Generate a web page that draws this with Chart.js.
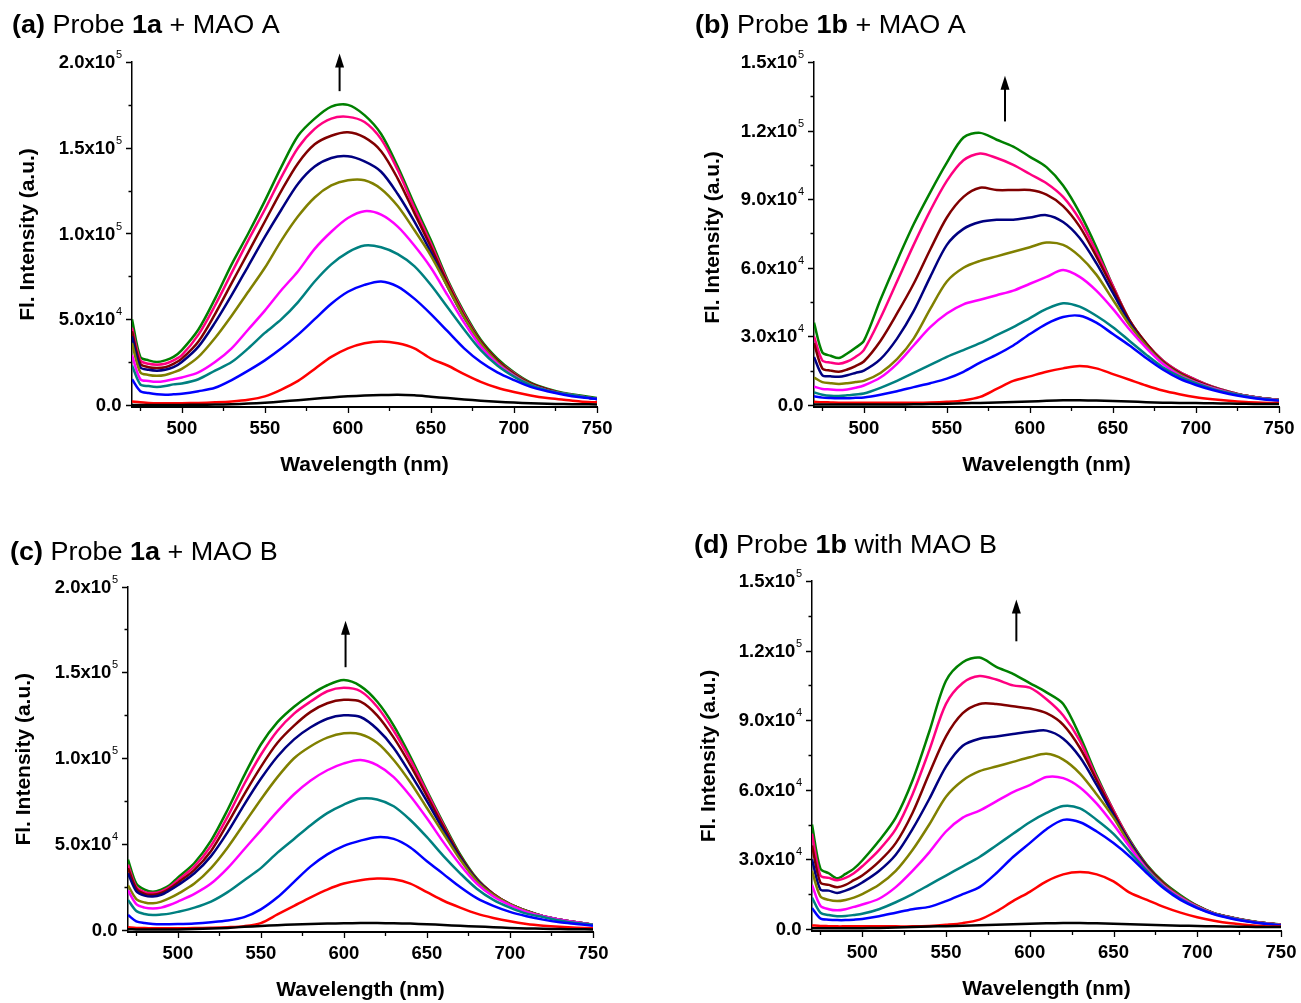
<!DOCTYPE html>
<html>
<head>
<meta charset="utf-8">
<script src="https://cdn.jsdelivr.net/npm/chart.js@4.4.0/dist/chart.umd.min.js"></script>
<style>
  html, body { margin: 0; padding: 0; background: #fff; }
  #wrap { position: relative; width: 1301px; height: 1003px; overflow: hidden; }
  canvas { position: absolute; }
</style>
</head>
<body>
<div id="wrap">
  <canvas id="ca" width="650" height="500" style="left:0;top:0"></canvas>
  <canvas id="cb" width="651" height="500" style="left:650px;top:0"></canvas>
  <canvas id="cc" width="650" height="503" style="left:0;top:500px"></canvas>
  <canvas id="cd" width="651" height="503" style="left:650px;top:500px"></canvas>
</div>
<script>
// wavelength grid (nm); intensities in units of 10^3 a.u.
const wavelength = [470,475,480,485,490,495,500,510,520,530,540,550,560,570,580,590,600,610,620,630,640,650,660,670,680,690,700,710,720,730,740,750];

// (a) probe 1a + MAO A
const aBlack   = [0,0,0,0,0,0,0,0.1,0.2,0.4,0.8,1.3,2,2.8,3.6,4.4,5,5.5,5.8,6,5.6,4.8,4,3.2,2.5,1.9,1.4,1,0.7,0.5,0.4,0.3];
const aRed     = [2,1.5,1.2,1,1,1,1,1.2,1.5,2,3,5,9,14,21,28,33,36,37,36,33,27,23,18,13.5,10,7.5,5.5,4,3,2,1.5];
const aBlue    = [15,8,7,6.3,6,6.2,6.5,8,10,14.5,20,26,33,41,50,59,66,70,72,69,62,53,43,33,25,19,14.5,10.5,8,6,4.5,3.5];
const aTeal    = [23,12,11,10.5,11,12,12.5,15,20,25,33,42,50,60,72,82,89,93,92,88,81,70,57,44,32,23,16.5,11.5,8.5,6.5,5,3.5];
const aMagenta = [29,15,14,13.5,14,15,16,19,25,33,44,55,67,78,91,101,109,113,111,104,93,80,64,48,34,24,17,11.5,8.5,6.5,5,3.5];
const aOlive   = [36,19,17.5,17,17.5,19,21,28,39,52,66,80,96,110,121,128,131,131,126,116,102,87,69,51,36,25,17.5,12,8.5,6.5,5,3.5];
const aNavy    = [40,22,20.5,20,20.5,22,25,34,48,64,81,98,114,129,139,144,145,142,136,123,107,89,69,51,36,25,17.5,12,8.5,6.5,5,3.5];
const aWine    = [43,24,22,21.5,22,24,27,37,53,71,89,107,125,141,152,157,159,156,148,132,112,92,71,52,37,26,18,12.5,9,6.5,5,3.5];
const aPink    = [45,26,24,23.5,24,26,29,41,58,77,96,114,133,150,161,167,168,165,155,137,115,94,72,53,37,26,18.5,12.5,9,6.5,5,3.5];
const aGreen   = [50,28,26,25,26,28,32,44,62,82,100,119,139,157,167,174,175,169,158,139,117,96,73,54,38,27,19,13,9.5,7,5.5,4];

// (b) probe 1b + MAO A
const bBlack   = [0.2,0.2,0.2,0.2,0.2,0.2,0.2,0.2,0.2,0.3,0.4,0.5,0.7,0.9,1.1,1.3,1.5,1.8,2,2,1.9,1.7,1.5,1.2,1,0.9,0.8,0.7,0.6,0.5,0.4,0.4];
const bRed     = [1.4,1.2,1.1,1,1,1,1,1,1,1,1.1,1.4,2,3.5,7,10.5,12.5,14.5,16,17,16,13.5,11,8.5,6.3,4.7,3.4,2.5,1.8,1.3,1,0.8];
const bBlue    = [3.8,3.2,3,2.9,2.9,3.1,3.3,4.5,6,7.8,9.5,11.5,14.5,18.5,22,26,31,35.5,38.5,39,36,31,26,20.5,15.5,11.5,8.7,6.5,4.8,3.5,2.5,1.8];
const bTeal    = [5.5,4.5,4,3.9,4.2,4.6,5,7.5,10.5,14,17.5,21,24,27,30.5,34,38,42,44.5,43,39,34,28,22,16.5,12.5,9.5,7,5.2,3.8,2.7,2];
const bMagenta = [8,7,6.8,6.5,6.8,7.5,8.5,12,18,26,34,40,44,46,48,50,53,56,59,56,50,42,33,25,18,13,9.8,7.3,5.4,3.9,2.8,2.1];
const bOlive   = [12,10,9.5,9.2,9.5,10,10.5,14,20,29,42,54,60,63,65,67,69,71,70,65,57,46,35,26,18.5,13.5,10,7.5,5.5,4,2.9,2.2];
const bNavy    = [21,13,12.5,12.3,13,14,15,20,29,41,56,70,77,80,81,81,82,83,80,73,62,49,36,26,18.5,13.5,10,7.5,5.5,4,2.9,2.2];
const bWine    = [27,16,15,14.5,15.5,17,19,28,40,53,68,82,91,95,94,94,94,92,87,78,65,51,37,27,19,14,10.5,7.8,5.6,4,2.9,2.2];
const bPink    = [30,19.5,18.5,18,19,21,24,38,54,70,85,98,107,110,108,105,101,97,91,81,67,52,37,27,19.5,14.5,11,8,5.8,4,2.9,2.2];
const bGreen   = [36,23,21.5,20.5,22.5,25,28,46,63,79,93,106,117,119,116,113,108.5,104,96,84,69,52,37,27,19.5,14.5,11,8,5.8,4,2.9,2.2];

// (c) probe 1a + MAO B
const cBlack   = [0.4,0.3,0.3,0.3,0.3,0.3,0.3,0.5,0.8,1.2,1.8,2.3,2.8,3.1,3.4,3.7,3.9,4,4,3.9,3.7,3.3,2.9,2.4,2,1.6,1.2,0.9,0.7,0.5,0.4,0.3];
const cRed     = [1.5,1.2,1.1,1,1,1,1,1.1,1.3,1.6,2.2,4,9,14,19,23.5,27,29,30,29.5,27,22,17,13,9.5,7,5,3.5,2.5,1.8,1.3,1];
const cBlue    = [8.7,5,4,3.5,3.3,3.3,3.4,3.8,4.5,5.5,7.5,12,19,28,37,44,49,52,54,53,48,40,32.5,25,18.5,14,10.5,8,6,4.5,3.5,2.5];
const cTeal    = [17.5,11,9.3,8.7,9,9.5,10.5,13,16.5,22,29,36,45,53,61,68,73,76.5,76,72,64,54,43,33,24,17.5,13,9.5,7.5,5.5,4,3];
const cMagenta = [23,15,13,12.5,13,14.5,16.5,21,27,36,47,58,69,79,87,93,97,99,96,89,78,65,51,38,27,19.5,14.5,10.5,8,6,4.5,3];
const cOlive   = [26,18,16,15.5,16.5,18.5,21,27,36,48,62,76,89,100,107,112,114.5,114,109,99,86,71,56,41,28.5,20.5,15,11,8,6,4.5,3];
const cNavy    = [33,22.5,20,19.5,20.5,23,26,33,43,57,73,88,101,111,118,123,125,124,117,106,91,75,58,42,29,20.5,15,11,8,6,4.5,3];
const cWine    = [36,24,21,20.5,21.5,24,27.5,35,46,62,79,95,109,119,127,132,134,133,125,112,96,78,60,43,29.5,21,15,11,8,6,4.5,3];
const cPink    = [38,25,22,21.5,22.5,25,29,37,49,66,85,102,116,126,133,139,141,139,130,116,99,80,61,43,29.5,21,15,11,8,6,4.5,3];
const cGreen   = [41,27,23.5,22.3,23.5,26,30.5,39,52,70,90,108,121,130,137,142.5,145.5,142,133,119,101,81,62,44,30,21,15,11,8,6,4.5,3];

// (d) probe 1b with MAO B
const dBlack   = [0.3,0.3,0.3,0.3,0.3,0.3,0.3,0.4,0.6,0.8,1,1.2,1.4,1.6,1.8,2,2.2,2.4,2.5,2.5,2.4,2.2,2,1.8,1.6,1.4,1.3,1.1,1,0.9,0.8,0.8];
const dRed     = [1.5,1.3,1.2,1.1,1.1,1.1,1.1,1.1,1.1,1.1,1.3,1.8,2.5,4,7.5,12,16,20.5,23.5,24.5,23.5,20.5,15.5,12.5,9.5,7,5,3.5,2.4,1.7,1.2,1];
const dBlue    = [9,4.5,4,3.8,3.8,4,4.3,5.5,7,8.5,9.5,12,15,18,24,31,37,43,47,46,42,37,31,24,17.5,12.5,9,6.3,4.5,3.2,2.2,1.5];
const dTeal    = [13.5,7,6,5.5,5.6,6,6.5,8.5,11.5,15,19,23,27,31,36,41,46,50,53,52,47,41,33,25,18,13,9.2,6.5,4.7,3.3,2.3,1.6];
const dMagenta = [19,10,8.5,8,8.5,9.5,10.5,13,18,25,33,42,48,51,55,59,62,65.5,65,61,54,45,35,25.5,18.5,13.5,9.5,6.6,4.8,3.4,2.4,1.7];
const dOlive   = [25,14,12.5,12,12.5,13.5,15,19,25,34,45,57,64,68,70,72,74,75.5,73,67,58,48,36,26,19,14,9.8,6.7,4.9,3.5,2.5,1.8];
const dNavy    = [30,17,16.5,15.5,16.5,18,20,25,32,43,56,70,79,82,83,84,85,85.5,82,74,62,49,37,26.5,19,14,9.8,6.7,4.9,3.5,2.5,1.8];
const dWine    = [36,20,19,18,19,21,23,29,37,50,67,83,93,97,97,96,95,93,88,78,64,50,37,27,19.5,14,9.8,6.7,4.9,3.5,2.5,1.8];
const dPink    = [41,23,22,21,22,24,27,34,43,58,77,97,106,109,107.5,105,104,99,92,81,65,51,37.5,27,19.5,14,9.8,6.7,4.9,3.5,2.5,1.8];
const dGreen   = [45,26,24,21.8,23.7,26,29.5,38,48,64,85,107,115,117,113,110,106,102,97,83,66,51,38,27.5,20,14.5,10,6.8,5,3.6,2.6,1.9];

// tick values
const xMajor = [500,550,600,650,700,750];
const xMinor = [475,525,575,625,675,725];
const yMajor1a = [0,50,100,150,200];
const yMinor1a = [25,75,125,175];
const yMajor1b = [0,30,60,90,120,150];
const yMinor1b = [15,45,75,105,135];

const lineColors = ['#000000','#ff0000','#0000ff','#008080','#ff00ff','#808000','#000080','#800000','#ff0080','#008000'];
const FONT = '"Liberation Sans", Arial, Helvetica, sans-serif';

function sciLabel(v) {
  if (v === 0) return ['0.0', ''];
  const n = v * 1000;
  const e = Math.floor(Math.log10(n) + 1e-9);
  return [(n / Math.pow(10, e)).toFixed(1) + 'x10', String(e)];
}

// draws origin-style axes decorations, titles and the arrow
const originLook = {
  id: 'originLook',
  afterDraw(chart) {
    const o = chart.options.plugins.originLook;
    const { ctx, chartArea: ca } = chart;
    const xs = chart.scales.x, ys = chart.scales.y;
    ctx.save();
    ctx.strokeStyle = '#000';
    ctx.fillStyle = '#000';
    ctx.lineWidth = 1.3;

    // tick marks
    ctx.beginPath();
    o.yMajor.forEach(v => { const y = Math.round(ys.getPixelForValue(v)) + 0.5; ctx.moveTo(ca.left, y); ctx.lineTo(ca.left - 6, y); });
    o.yMinor.forEach(v => { const y = Math.round(ys.getPixelForValue(v)) + 0.5; ctx.moveTo(ca.left, y); ctx.lineTo(ca.left - 3.5, y); });
    xMajor.forEach(v => { const x = Math.round(xs.getPixelForValue(v)) + 0.5; ctx.moveTo(x, ca.bottom); ctx.lineTo(x, ca.bottom + 6); });
    xMinor.forEach(v => { const x = Math.round(xs.getPixelForValue(v)) + 0.5; ctx.moveTo(x, ca.bottom); ctx.lineTo(x, ca.bottom + 4); });
    ctx.stroke();

    // y tick labels with superscript exponent
    ctx.textBaseline = 'middle';
    ctx.textAlign = 'left';
    o.yMajor.forEach(v => {
      const [base, exp] = sciLabel(v);
      const y = ys.getPixelForValue(v);
      const right = ca.left - 10;
      ctx.font = '11px ' + FONT;
      const ew = exp ? ctx.measureText(exp).width : 0;
      if (exp) ctx.fillText(exp, right - ew, y - 7);
      ctx.font = 'bold 18.5px ' + FONT;
      const bw = ctx.measureText(base).width;
      ctx.fillText(base, right - ew - bw - 0.5, y + 1);
    });

    // x tick labels
    ctx.textAlign = 'center';
    ctx.font = 'bold 18.5px ' + FONT;
    xMajor.forEach(v => ctx.fillText(String(v), xs.getPixelForValue(v), ca.bottom + 22));

    // axis titles
    ctx.font = 'bold 21px ' + FONT;
    ctx.fillText('Wavelength (nm)', (ca.left + ca.right) / 2, ca.bottom + 58);
    ctx.save();
    ctx.translate(ca.left + o.yTitleDx, (ca.top + ca.bottom) / 2 + o.yTitleDy);
    ctx.rotate(-Math.PI / 2);
    ctx.fillText('Fl. Intensity (a.u.)', 0, 0);
    ctx.restore();

    // panel title (slightly wide lettering as in the original figure)
    ctx.save();
    ctx.translate(o.title.x, o.title.y);
    ctx.scale(1.08, 1);
    ctx.textAlign = 'left';
    ctx.textBaseline = 'alphabetic';
    let tx = 0;
    o.title.parts.forEach(([txt, bold]) => {
      ctx.font = (bold ? 'bold ' : '') + '25px ' + FONT;
      ctx.fillText(txt, tx, 0);
      tx += ctx.measureText(txt).width;
    });
    ctx.restore();

    // arrow
    const ax = xs.getPixelForValue(o.arrow[0]);
    const ay0 = ys.getPixelForValue(o.arrow[1]);
    const ay1 = ys.getPixelForValue(o.arrow[2]);
    ctx.lineWidth = 2;
    ctx.beginPath();
    ctx.moveTo(ax, ay0);
    ctx.lineTo(ax, ay1 + 10);
    ctx.stroke();
    ctx.beginPath();
    ctx.moveTo(ax, ay1);
    ctx.lineTo(ax - 4.5, ay1 + 14);
    ctx.lineTo(ax + 4.5, ay1 + 14);
    ctx.closePath();
    ctx.fill();
    ctx.restore();
  }
};

const panels = [
  { id: 'ca', letter: '(a) ', probe: '1a', rest: ' + MAO A',
    series: [aBlack, aRed, aBlue, aTeal, aMagenta, aOlive, aNavy, aWine, aPink, aGreen],
    yMin: -1.2, yMax: 200, yMajor: yMajor1a, yMinor: yMinor1a, arrow: [595, 183, 205],
    pad: { left: 132, right: 53, top: 62, bottom: 93 }, title: { x: 12, y: 33 }, yTitleDx: -104, yTitleDy: 0 },
  { id: 'cb', letter: '(b) ', probe: '1b', rest: ' + MAO A',
    series: [bBlack, bRed, bBlue, bTeal, bMagenta, bOlive, bNavy, bWine, bPink, bGreen],
    yMin: -0.9, yMax: 150, yMajor: yMajor1b, yMinor: yMinor1b, arrow: [585, 124, 144],
    pad: { left: 164, right: 22, top: 62, bottom: 93 }, title: { x: 45, y: 33 }, yTitleDx: -101, yTitleDy: 3 },
  { id: 'cc', letter: '(c) ', probe: '1a', rest: ' + MAO B',
    series: [cBlack, cRed, cBlue, cTeal, cMagenta, cOlive, cNavy, cWine, cPink, cGreen],
    yMin: -1.2, yMax: 200, yMajor: yMajor1a, yMinor: yMinor1a, arrow: [601, 153, 180],
    pad: { left: 128, right: 57, top: 86.5, bottom: 71 }, title: { x: 10, y: 60 }, yTitleDx: -104, yTitleDy: 0 },
  { id: 'cd', letter: '(d) ', probe: '1b', rest: ' with MAO B',
    series: [dBlack, dRed, dBlue, dTeal, dMagenta, dOlive, dNavy, dWine, dPink, dGreen],
    yMin: -0.9, yMax: 150, yMajor: yMajor1b, yMinor: yMinor1b, arrow: [592, 124, 142],
    pad: { left: 162, right: 20, top: 81, bottom: 72 }, title: { x: 44, y: 53 }, yTitleDx: -103, yTitleDy: 0 }
];

panels.forEach(p => {
  new Chart(document.getElementById(p.id), {
    type: 'line',
    data: {
      datasets: p.series.map((vals, i) => ({
        data: wavelength.map((x, k) => ({ x: x, y: vals[k] })),
        borderColor: lineColors[i],
        borderWidth: 2.5,
        pointRadius: 0,
        fill: false,
        tension: 0.3
      }))
    },
    options: {
      responsive: false,
      animation: false,
      events: [],
      layout: { padding: p.pad },
      plugins: {
        legend: { display: false },
        tooltip: { enabled: false },
        originLook: {
          yMajor: p.yMajor, yMinor: p.yMinor, arrow: p.arrow,
          yTitleDx: p.yTitleDx, yTitleDy: p.yTitleDy,
          title: { x: p.title.x, y: p.title.y, parts: [[p.letter, true], ['Probe ', false], [p.probe, true], [p.rest, false]] }
        }
      },
      scales: {
        x: {
          type: 'linear', min: 470, max: 750,
          grid: { display: false },
          ticks: { display: false },
          border: { display: true, color: '#000', width: 2 },
          afterFit: s => { s.height = 0; }
        },
        y: {
          min: p.yMin, max: p.yMax,
          grid: { display: false },
          ticks: { display: false },
          border: { display: true, color: '#000', width: 1.5 },
          afterFit: s => { s.width = 0; }
        }
      }
    },
    plugins: [originLook]
  });
});
</script>
</body>
</html>
